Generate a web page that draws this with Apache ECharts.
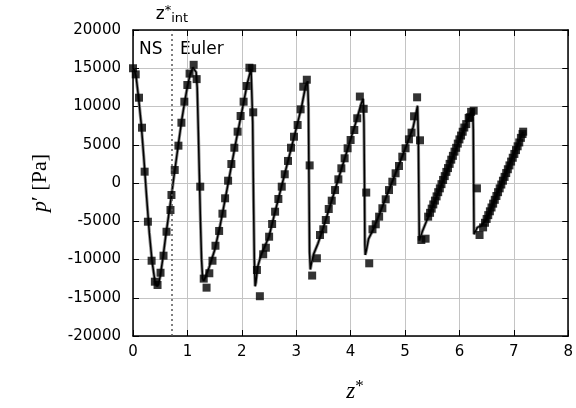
<!DOCTYPE html>
<html><head><meta charset="utf-8">
<script src="https://cdn.jsdelivr.net/npm/echarts@6/dist/echarts.min.js"></script>
<style>html,body{margin:0;padding:0;background:#fff}#c{width:576px;height:408px}</style>
</head><body><div id="c"></div>
<script>
// ---- data ----
const xTicks = [0,1,2,3,4,5,6,7,8];
const yTicks = [-20000,-15000,-10000,-5000,0,5000,10000,15000,20000];
const zInterface = [0.71];
const regionLabels = ['NS', 'Euler'];

// experimental / reference markers (z*, p')
const markerZ = [0,0.05,0.11,0.165,0.214,0.274,0.342,0.402,0.451,0.506,0.561,0.616,0.689,0.707,0.767,0.835,0.89,0.944,0.999,1.04,1.115,1.17,
 1.236,1.30,1.352,1.403,1.461,1.516,1.583,1.644,1.693,1.748,1.808,1.863,1.923,1.978,2.033,2.088,2.14,2.19,2.21,
 2.278,2.332,2.393,2.442,2.502,2.557,2.612,2.672,2.734,2.789,2.849,2.904,2.959,3.026,3.081,3.129,3.195,3.247,
 3.293,3.38,3.437,3.498,3.544,3.598,3.653,3.714,3.775,3.83,3.89,3.945,4.0,4.068,4.122,4.17,4.24,4.287,
 4.342,4.402,4.462,4.524,4.584,4.645,4.706,4.767,4.827,4.889,4.95,5.01,5.072,5.12,5.166,5.222,5.275,
 5.30,5.378,5.425,5.46,5.49,5.52,5.55,5.58,5.61,5.64,5.67,5.70,5.73,5.76,5.79,5.82,5.85,5.88,5.91,5.94,5.97,6.00,6.03,6.06,6.09,6.125,6.17,6.19,6.215,6.262,6.322,
 6.37,6.435,6.47,6.50,6.53,6.56,6.59,6.62,6.65,6.68,6.71,6.74,6.77,6.80,6.83,6.86,6.89,6.92,6.95,6.98,7.01,7.04,7.07,7.10,7.13,7.16,7.172];
const markerP = [15000,14200,11150,7230,1480,-5060,-10160,-12900,-13330,-11730,-9500,-6370,-3530,-1570,1700,4880,7880,10630,12810,14300,15450,13580,
 -480,-12500,-13680,-11800,-10160,-8200,-6270,-4010,-2000,300,2480,4610,6710,8760,10630,12680,15070,15000,9240,
 -11370,-14800,-9320,-8460,-7020,-5360,-3750,-2090,-480,1140,2880,4610,6050,7580,9630,12590,13500,2300,
 -12100,-9840,-6800,-6050,-4840,-3400,-2310,-920,480,1920,3230,4540,5620,6930,8460,11300,9700,-1250,
 -10500,-6050,-5400,-4400,-3300,-2130,-920,170,1270,2220,3440,4540,5710,6580,8720,11200,5580,
 -7450,-7280,-4400,-3900,-3350,-2800,-2300,-1750,-1200,-700,-150,400,900,1450,1950,2500,3050,3550,4100,4600,5150,5700,6200,6700,7250,7700,8500,8600,9300,9450,-700,
 -6800,-5800,-5200,-4700,-4200,-3700,-3200,-2700,-2200,-1700,-1200,-700,-200,300,800,1300,1800,2300,2800,3300,3800,4300,4800,5300,5900,6400,6710];

// simulation curve (z*, p')
const lineZ = [0,0.03,0.06,0.1,0.15,0.2,0.25,0.3,0.35,0.4,0.44,0.47,0.5,0.55,0.6,0.65,0.7,0.75,0.8,0.85,0.9,0.95,1.0,1.05,1.1,1.13,1.16,1.18,1.2,1.22,1.24,1.26,1.28,1.3,1.33,1.4,
 1.5,1.6,1.7,1.8,1.9,2.0,2.1,2.17,2.19,2.2,2.215,2.23,2.245,2.26,2.29,2.35,
 2.5,2.6,2.7,2.8,2.9,3.0,3.1,3.17,3.21,3.225,3.235,3.245,3.26,3.28,3.32,
 3.4,3.5,3.6,3.7,3.8,3.9,4.0,4.1,4.2,4.23,4.245,4.255,4.262,4.27,4.29,4.33,
 4.4,4.5,4.6,4.7,4.8,4.9,5.0,5.1,5.15,5.2,5.23,5.245,5.255,5.262,5.28,5.32,
 5.4,5.5,5.6,5.7,5.8,5.9,6.0,6.1,6.2,6.245,6.255,6.262,6.268,6.29,6.33,
 6.4,6.5,6.6,6.7,6.8,6.9,7.0,7.1,7.17];
const lineP = [15000,14700,13700,11300,7800,3200,-1800,-6500,-10200,-12700,-13500,-13200,-12200,-9800,-7000,-4500,-2000,700,3300,5900,8400,10600,12600,14200,15100,15300,14500,12500,7000,1000,-5000,-10000,-12500,-12800,-12300,-11000,
 -8800,-5600,-1900,1900,5700,9300,13000,14900,14800,8000,-2000,-10000,-13500,-13000,-11000,-9500,
 -7000,-4100,-1300,1500,4300,7100,10000,12600,13300,10000,0,-9000,-11300,-10500,-9300,
 -7900,-5800,-3500,-1200,1100,3400,5700,8000,10500,11000,8000,0,-8000,-9400,-8800,-7300,
 -6300,-4600,-2800,-1000,800,2600,4400,6300,7300,9000,10100,6000,-2000,-7500,-7400,-6300,
 -4900,-3200,-1400,300,2100,3800,5600,7300,9000,9700,7000,-1000,-6700,-6600,-5800,
 -5600,-4700,-3000,-1300,400,2100,3800,5500,6700];

const markers = markerZ.map((z,i)=>[z, markerP[i]]);
const curve = lineZ.map((z,i)=>[z, lineP[i]]);

const chart = echarts.init(document.getElementById('c'), null, {renderer:'canvas'});
const tickFont = {fontFamily:'DejaVu Sans', fontSize:15, color:'#000'};
const baseX = {type:'value', min:xTicks[0], max:xTicks[xTicks.length-1], interval:1};
const baseY = {type:'value', min:yTicks[0], max:yTicks[yTicks.length-1], interval:5000};
const axLine = {show:true, onZero:false, lineStyle:{color:'#000', width:1.5}};
const tick = {show:true, inside:true, length:6, lineStyle:{color:'#000', width:1}};

chart.setOption({
  animation:false,
  backgroundColor:'#fff',
  grid:{left:133, right:5, top:30, bottom:72, containLabel:false},
  xAxis:[
    Object.assign({}, baseX, {position:'bottom', axisLine:axLine, axisTick:tick,
      axisLabel:Object.assign({margin:9, formatter:v=>String(v)}, tickFont),
      splitLine:{show:true, lineStyle:{color:'#c4c4c4', width:1}}}),
    Object.assign({}, baseX, {position:'top', axisLine:axLine, axisTick:tick,
      axisLabel:{show:false}, splitLine:{show:false}})
  ],
  yAxis:[
    Object.assign({}, baseY, {position:'left', axisLine:axLine, axisTick:tick,
      axisLabel:Object.assign({margin:12, formatter:v=>String(v)}, tickFont),
      splitLine:{show:true, lineStyle:{color:'#c4c4c4', width:1}}}),
    Object.assign({}, baseY, {position:'right', axisLine:axLine, axisTick:tick,
      axisLabel:{show:false}, splitLine:{show:false}})
  ],
  series:[
    {type:'line', data:curve, showSymbol:false, lineStyle:{color:'#8a8a8a', width:3.2}, z:2,
     markLine:{silent:true, symbol:'none', label:{show:false},
       lineStyle:{color:'#555', type:[2,3], width:1.5},
       data: zInterface.map(v=>({xAxis:v}))}},
    {type:'line', data:curve, showSymbol:false, lineStyle:{color:'#000', width:1.5}, z:3},
    {type:'scatter', data:markers, symbol:'rect', symbolSize:8, itemStyle:{color:'#000'}, z:4}
  ],
  graphic:[
    {type:'text', x:40, y:183, rotation:Math.PI/2,
     style:{text:'{i|p}′ [Pa]', align:'center', verticalAlign:'middle',
       font:'22px "Liberation Serif"', fill:'#000',
       rich:{i:{fontStyle:'italic', fontFamily:'Liberation Serif', fontSize:22}}}},
    {type:'text', x:355, y:392,
     style:{text:'{i|z}{s|*}', align:'center', verticalAlign:'middle', fill:'#000',
       rich:{i:{fontStyle:'italic', fontFamily:'Liberation Serif', fontSize:23},
             s:{fontFamily:'Liberation Serif', fontSize:17, verticalAlign:'top', padding:[0,0,10,0]}}}},
    {type:'text', x:172, y:15,
     style:{text:'{z|z}{s|*}{b|int}', align:'center', verticalAlign:'middle', fill:'#000',
       rich:{z:{fontFamily:'DejaVu Sans', fontSize:17},
             s:{fontFamily:'DejaVu Sans', fontSize:13, padding:[0,0,8,0]},
             b:{fontFamily:'DejaVu Sans', fontSize:13, padding:[8,0,0,0]}}}},
    {type:'text', x:139, y:50, style:{text:regionLabels[0], font:'17px "DejaVu Sans"', fill:'#000', verticalAlign:'middle'}},
    {type:'text', x:180, y:50, style:{text:regionLabels[1], font:'17px "DejaVu Sans"', fill:'#000', verticalAlign:'middle'}}
  ]
});
</script></body></html>
